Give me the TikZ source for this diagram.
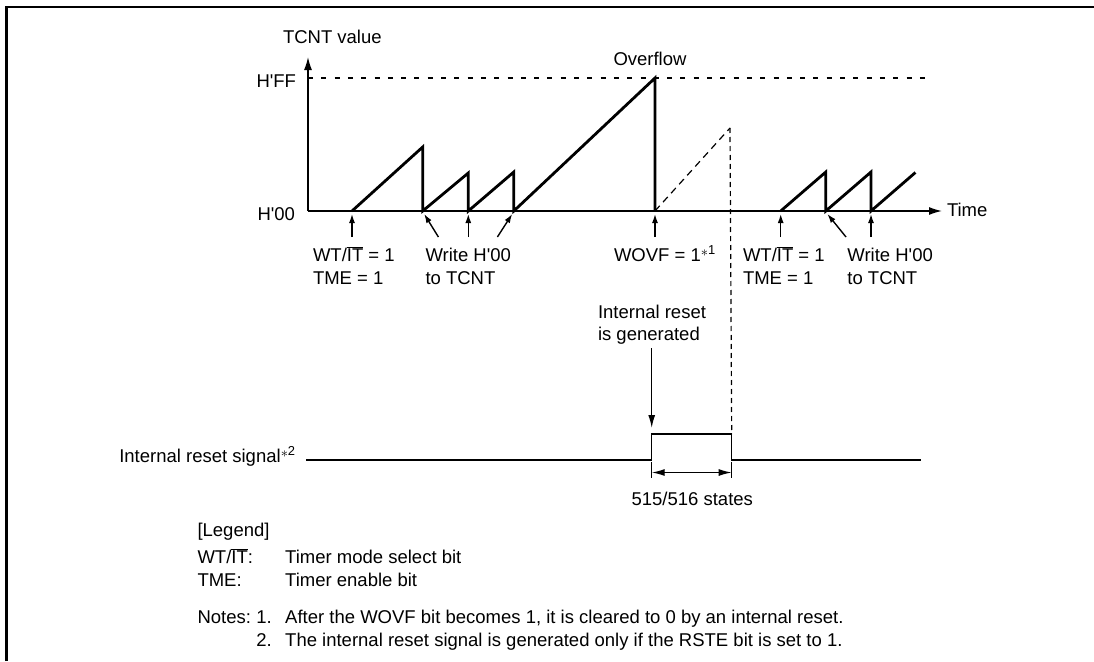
\documentclass[tikz,border=0pt]{standalone}
\usepackage{fontspec}
\setmainfont{Liberation Sans}[Ligatures=TeXOff]
\usetikzlibrary{arrows.meta}
\newcommand{\WTIT}{WT/$\overline{\mbox{IT}}$}
\newcommand{\starnote}[1]{\raisebox{0.22em}{\fontsize{14}{14}\selectfont$\ast$}\textsuperscript{#1}}
\begin{document}
\begin{tikzpicture}[x=1pt,y=-1pt,
  txt/.style={inner sep=0pt, outer sep=0pt, font=\fontsize{18.5}{22}\selectfont},
  lbl/.style={txt, anchor=base west},
  wave/.style={line width=2.8pt, line join=miter, line cap=butt},
  thinline/.style={line width=1.4pt},
  axisarrow/.style={thinline, -{Latex[length=13pt,width=8pt]}},
  markarrow/.style={thinline, -{Latex[length=9pt,width=6pt]}},
  dimarrow/.style={thinline, {Latex[length=13pt,width=7pt]}-{Latex[length=13pt,width=7pt]}},
  dashgrid/.style={line width=1.2pt, dash pattern=on 5pt off 8.3pt},
  dashramp/.style={line width=1.2pt, dash pattern=on 7pt off 5pt},
  dashvert/.style={line width=1.2pt, dash pattern=on 5pt off 4pt},
]
\useasboundingbox (0,0) rectangle (1094,661);
% frame
\draw[line width=2.6pt] (6.3,661) -- (6.3,7) -- (1094,7);

% axes
\coordinate (O) at (308,211);
\coordinate (Ytip) at (308,57);
\coordinate (Xtip) at (942,211);
\coordinate (ffL) at (308,78);
\coordinate (ffR) at (929,78);
\draw[axisarrow] (O) -- (Ytip);
\draw[axisarrow] (O) -- (Xtip);
\draw[dashgrid] (ffL) -- (ffR);

\node[lbl] (tcnt) at (283,44) {TCNT value};
\node[txt, anchor=base east] (hff) at (296,88) {H'FF};
\node[txt, anchor=base east] (h00) at (295,220) {H'00};
\node[lbl] (time) at (947,216) {Time};
\node[txt, anchor=base] (ovf) at (650,65) {Overflow};

% counter waveform
\coordinate (r1) at (352,211);
\coordinate (p1) at (422.7,147);
\coordinate (r2) at (422.7,211);
\coordinate (p2) at (468.3,173);
\coordinate (r3) at (468.3,211);
\coordinate (p3) at (513.8,172);
\coordinate (r4) at (513.8,211);
\coordinate (pov) at (655,78);
\coordinate (ov) at (655,211);
\coordinate (r5) at (780.7,211);
\coordinate (p5) at (825.8,172);
\coordinate (r6) at (825.8,211);
\coordinate (p6) at (871,172);
\coordinate (r7) at (871,211);
\coordinate (p7) at (915.4,172.5);
\coordinate (dtop) at (730,128);
\draw[wave] (r1) -- (p1) -- (r2) -- (p2) -- (r3) -- (p3) -- (r4) -- (pov) -- (ov);
\draw[wave] (r5) -- (p5) -- (r6) -- (p6) -- (r7) -- (p7);
\draw[dashramp] (ov) -- (dtop);

% event arrows
\coordinate (a1t) at (352,237);     \coordinate (a1h) at (352,214);
\coordinate (a2t) at (438.4,237);   \coordinate (a2h) at (424.2,214);
\coordinate (a3t) at (468.3,237);   \coordinate (a3h) at (468.3,214);
\coordinate (a4t) at (497.4,237);   \coordinate (a4h) at (512.2,214);
\coordinate (a5t) at (655,237);     \coordinate (a5h) at (655,214);
\coordinate (a6t) at (780.7,237);   \coordinate (a6h) at (780.7,214);
\coordinate (a7t) at (846,237);     \coordinate (a7h) at (827.4,214);
\coordinate (a8t) at (871,237);     \coordinate (a8h) at (871,214);
\foreach \i in {1,...,8} \draw[markarrow] (a\i t) -- (a\i h);

% labels under the axis
\node[lbl] (wt1) at (313,261) {\WTIT{} = 1};
\node[lbl] (tme1) at (313,284) {TME = 1};
\node[lbl] (wr1) at (425.5,261) {Write H'00};
\node[lbl] (wr1b) at (425.5,284) {to TCNT};
\node[lbl] (wovf) at (614,261) {WOVF = 1\starnote{1}};
\node[lbl] (wt2) at (743,261) {\WTIT{} = 1};
\node[lbl] (tme2) at (743,284) {TME = 1};
\node[lbl] (wr2) at (847.4,261) {Write H'00};
\node[lbl] (wr2b) at (847.4,284) {to TCNT};

% reset signal
\node[lbl] (irs) at (119.3,462) {Internal reset signal\starnote{2}};
\coordinate (s0) at (306,460);
\coordinate (s1) at (651.7,460);
\coordinate (s2) at (651.7,434);
\coordinate (s3) at (731.7,434);
\coordinate (s4) at (731.7,460);
\coordinate (s5) at (921,460);
\draw[thinline, line join=miter] (s0) -- (s1) -- (s2) -- (s3) -- (s4) -- (s5);
\draw[dashvert] (dtop) -- (s3);

\node[lbl] (ir1) at (598,318) {Internal reset};
\node[lbl] (ir2) at (598,340) {is generated};
\coordinate (rgt) at (651.7,348);
\coordinate (rgh) at (651.7,428);
\draw[thinline, -{Latex[length=13pt,width=7pt]}] (rgt) -- (rgh);

% dimension
\coordinate (t1a) at (651.7,462); \coordinate (t1b) at (651.7,478);
\coordinate (t2a) at (731.7,462); \coordinate (t2b) at (731.7,478);
\coordinate (d1) at (651.7,472.5); \coordinate (d2) at (731.7,472.5);
\draw[thinline] (t1a) -- (t1b);
\draw[thinline] (t2a) -- (t2b);
\draw[dimarrow] (d1) -- (d2);
\node[lbl] (states) at (631.6,505) {515/516 states};

% legend
\node[lbl] (leg) at (197.5,536) {[Legend]};
\node[lbl] (lwt) at (197.5,563) {\WTIT:};
\node[lbl] (lwtd) at (285.2,563) {Timer mode select bit};
\node[lbl] (ltme) at (197.5,586) {TME:};
\node[lbl] (ltmed) at (285.2,586) {Timer enable bit};
\node[lbl] (notes) at (197.5,623) {Notes:};
\node[txt, anchor=base east] (n1) at (271.8,623) {1.};
\node[lbl] (n1t) at (285.2,623) {After the WOVF bit becomes 1, it is cleared to 0 by an internal reset.};
\node[txt, anchor=base east] (n2) at (271.8,646) {2.};
\node[lbl] (n2t) at (285.2,646) {The internal reset signal is generated only if the RSTE bit is set to 1.};
\end{tikzpicture}
\end{document}
